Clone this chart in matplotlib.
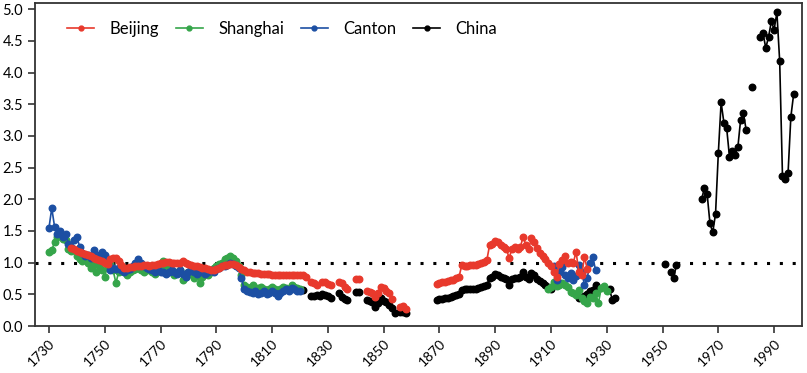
import numpy as np
import matplotlib
matplotlib.use("Agg")
import matplotlib.pyplot as plt
from matplotlib.lines import Line2D

nan = np.nan

# ---------------- data ----------------
canton_years_a = list(range(1730, 1821))
canton_a = [1.55, 1.86, 1.57, 1.45, 1.50, 1.40, 1.45, 1.30, 1.25, 1.35,
            1.41, 1.25, 1.15, 1.10, 1.12, 1.08, 1.20, 1.08, 1.12, 1.17,
            1.12, 1.00, 0.88, 0.92, 0.90, 0.92, 0.88, 0.85, 0.88, 0.90,
            0.95, 1.00, 1.06, 1.00, 0.95, 0.92, 0.90, 0.88, 0.85, 0.88,
            0.85, 0.85, 0.82, 0.85, 0.88, 0.85, 0.82, 0.88, 0.82, 0.78,
            0.85, 0.88, 0.85, 0.82, 0.88, 0.85, 0.82, 0.85, 0.88, 0.85,
            0.90, 0.92, 0.95, 0.95, 0.97, 1.00, 0.98, 0.95, 0.92, 0.75,
            0.58, 0.55, 0.53, 0.52, 0.55, 0.50, 0.52, 0.55, 0.50, 0.52,
            0.55, 0.52, 0.48, 0.52, 0.55, 0.58, 0.55, 0.60, 0.58, 0.55,
            0.55]
canton_years_b = list(range(1911, 1927))
canton_b = [0.95, 0.73, 0.85, 0.93, 0.80, 0.76, 0.84, 0.73, 0.79, 0.96,
            0.85, 0.65, 0.76, 0.99, 1.09, 0.88]

shanghai_years_a = list(range(1730, 1821))
shanghai_a = [1.17, 1.20, 1.32, 1.40, 1.45, 1.38, 1.35, 1.22, 1.18, 1.20,
              1.10, 1.05, 1.02, 1.08, 1.00, 0.92, 0.98, 0.85, 0.95, 0.88,
              0.78, 0.95, 0.98, 0.88, 0.68, 0.85, 0.92, 0.85, 0.80, 0.85,
              0.88, 0.90, 0.92, 0.88, 0.85, 0.90, 0.88, 0.85, 0.82, 0.88,
              0.95, 1.03, 0.95, 0.90, 0.85, 0.80, 0.85, 0.88, 0.72, 0.78,
              0.85, 0.82, 0.75, 0.88, 0.68, 0.78, 0.85, 0.80, 0.85, 0.92,
              0.95, 0.98, 1.00, 1.05, 1.08, 1.10, 1.08, 1.02, 0.95, 0.80,
              0.65, 0.62, 0.60, 0.65, 0.58, 0.60, 0.62, 0.58, 0.55, 0.58,
              0.62, 0.58, 0.55, 0.58, 0.62, 0.60, 0.58, 0.65, 0.62, 0.60,
              0.58]
shanghai_years_b = list(range(1909, 1931))
shanghai_b = [0.58, 0.62, 0.70, 0.63, 0.65, 0.68, 0.65, 0.62, 0.54, 0.52,
              0.49, 0.57, 0.45, 0.40, 0.36, 0.46, 0.44, 0.52, 0.36, 0.60,
              0.63, 0.55]

beijing_years_a = list(range(1738, 1822))
beijing_a = [1.23, 1.21, 1.19, 1.17, 1.15, 1.14, 1.12, 1.10, 1.08, 1.06,
             1.04, 1.02, 1.00, 0.98, 1.05, 1.08, 1.08, 1.03, 0.96, 0.92,
             0.92, 0.93, 0.93, 0.94, 0.95, 0.95, 0.96, 0.96, 0.95, 0.96,
             0.97, 0.98, 0.99, 1.00, 1.01, 1.01, 1.00, 1.00, 1.00, 1.00,
             1.02, 1.00, 0.98, 0.96, 0.95, 0.94, 0.93, 0.92, 0.91, 0.90,
             0.89, 0.89, 0.90, 0.92, 0.94, 0.96, 0.97, 0.98, 0.98, 0.96,
             0.93, 0.90, 0.88, 0.86, 0.85, 0.84, 0.83, 0.83, 0.82, 0.82,
             0.82, 0.82, 0.81, 0.81, 0.81, 0.81, 0.81, 0.81, 0.81, 0.81,
             0.81, 0.81, 0.81, 0.81]
beijing_years_b = list(range(1822, 1859))
beijing_b = [0.77, nan, 0.70, 0.68, 0.64, nan, 0.70, 0.69, 0.67, 0.64,
             nan, nan, 0.70, 0.68, 0.62, 0.58, nan, nan, 0.74, 0.74,
             nan, nan, 0.56, 0.53, 0.52, 0.46, 0.52, 0.62, 0.60, 0.56,
             0.52, 0.42, nan, nan, 0.30, 0.31, 0.27]
beijing_years_c = list(range(1869, 1924))
beijing_c = [0.67, 0.68, 0.69, 0.70, 0.71, 0.72, 0.73, 0.75, 0.77, 0.96,
             0.95, 0.95, 0.96, 0.96, 0.97, 0.98, 0.99, 1.01, 1.04, 1.28,
             1.30, 1.34, 1.32, 1.28, 1.24, 1.22, 1.07, 1.22, 1.25, 1.22,
             1.24, 1.41, 1.28, 1.22, 1.39, 1.33, 1.23, 1.15, 1.10, 1.05,
             1.00, 0.95, 0.85, 0.78, 0.98, 1.04, 1.10, 1.00, 1.01, 1.00,
             1.17, 0.85, 0.80, 1.09, 0.90]

china_years_a = list(range(1821, 1859))
china_a = [0.57, nan, nan, 0.47, 0.48, 0.49, 0.47, 0.50, 0.49, 0.47,
           0.45, nan, nan, 0.52, 0.46, 0.43, 0.41, nan, nan, 0.54,
           0.53, nan, nan, 0.41, 0.39, 0.38, 0.30, 0.37, 0.44, 0.40,
           0.38, 0.33, 0.28, 0.20, nan, 0.22, 0.22, 0.20]
china_years_b = list(range(1869, 1911))
china_b = [0.41, 0.42, 0.43, 0.44, 0.45, 0.46, 0.47, 0.49, 0.50, 0.57,
           0.58, 0.58, 0.58, 0.59, 0.59, 0.60, 0.61, 0.63, 0.65, 0.76,
           0.78, 0.82, 0.80, 0.77, 0.75, 0.74, 0.65, 0.74, 0.76, 0.75,
           0.77, 0.86, 0.78, 0.74, 0.84, 0.80, 0.74, 0.71, 0.68, 0.64,
           0.61, 0.58]
china_years_c = list(range(1920, 1934))
china_c = [0.44, 0.45, 0.47, 0.50, 0.55, 0.57, 0.65, 0.58, nan, nan,
           nan, 0.58, 0.41, 0.44]
china_years_d = list(range(1951, 1956))
china_d = [0.98, nan, 0.85, 0.76, 0.97]
china_years_e = list(range(1964, 1999))
china_e = [2.00, 2.18, 2.08, 1.62, 1.48, 1.77, 2.73, 3.53, 3.21, 3.12,
           2.67, 2.76, 2.70, 2.82, 3.26, 3.36, 3.09, nan, 3.77, nan,
           nan, 4.57, 4.63, 4.39, 4.56, 4.81, 4.68, 4.95, 4.18, 2.37,
           2.32, 2.41, 3.30, 3.66, nan]

xticks = list(range(1730, 2000, 20))
yticks = [0.0, 0.5, 1.0, 1.5, 2.0, 2.5, 3.0, 3.5, 4.0, 4.5, 5.0]
legend_order = ['Beijing', 'Shanghai', 'Canton', 'China']

# ---------------- plot ----------------
plt.rcParams['font.family'] = ['Lato', 'DejaVu Sans']

fig = plt.figure(figsize=(8.07, 3.73), dpi=100)
ax = fig.add_axes([0.0434, 0.126, 0.9504, 0.866])

RED = '#E8392C'
GREEN = '#35A54A'
BLUE = '#1C4FA3'
BLACK = '#000000'
colors = {'Beijing': RED, 'Shanghai': GREEN, 'Canton': BLUE, 'China': BLACK}
ms = 4.7
lw = 1.2

def series(yrs_list, vals_list, color, z):
    for yrs, vals in zip(yrs_list, vals_list):
        ax.plot(yrs, vals, color=color, marker='o', markersize=ms,
                linewidth=lw, zorder=z)

ax.axhline(1.0, color='black', linestyle=(0, (1, 3.2)), linewidth=2.2, zorder=1)

series([china_years_a, china_years_b, china_years_c, china_years_d, china_years_e],
       [china_a, china_b, china_c, china_d, china_e], BLACK, 2)
series([shanghai_years_a, shanghai_years_b], [shanghai_a, shanghai_b], GREEN, 3)
series([canton_years_a, canton_years_b], [canton_a, canton_b], BLUE, 4)
series([beijing_years_a, beijing_years_b, beijing_years_c],
       [beijing_a, beijing_b, beijing_c], RED, 5)

ax.set_xlim(1725, 2000)
ax.set_ylim(0, 5.1)
ax.set_xticks(xticks)
ax.set_xticklabels([str(x) for x in xticks], rotation=45, ha='right',
                   rotation_mode='anchor', fontsize=10)
ax.set_yticks(yticks)
ax.set_yticklabels([f'{v:.1f}' for v in yticks], fontsize=10.5)
ax.tick_params(axis='both', direction='out', length=5, width=1.2, color='#333333')
ax.tick_params(axis='x', pad=3)
for s in ax.spines.values():
    s.set_color('#333333')
    s.set_linewidth(1.3)

leg_handles = [Line2D([], [], color=colors[k], marker='o', markersize=3.5,
                      linewidth=1.2) for k in legend_order]
ax.legend(leg_handles, legend_order, loc='upper left', bbox_to_anchor=(0.042, 0.944),
          ncol=4, frameon=False, fontsize=12, handlelength=1.6,
          columnspacing=1.0, handletextpad=0.95, borderpad=0, borderaxespad=0)

fig.savefig('out.png', dpi=100)
